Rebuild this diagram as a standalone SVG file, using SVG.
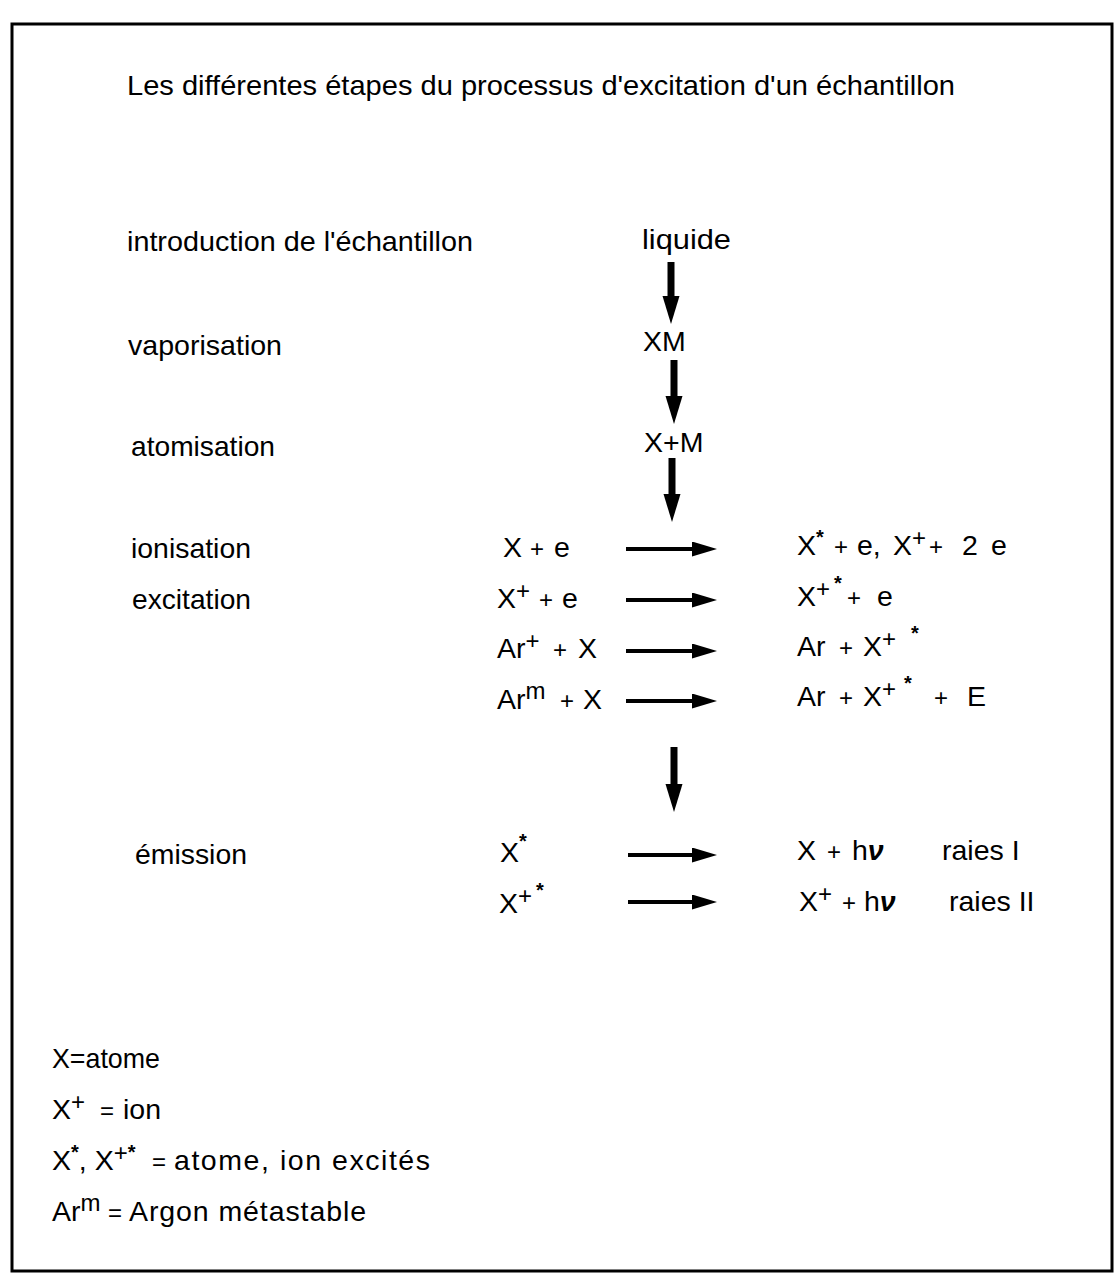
<svg xmlns="http://www.w3.org/2000/svg" width="1116" height="1276" viewBox="0 0 1116 1276">
<style>
.t{font-family:"Liberation Sans",Arial,Helvetica,sans-serif;font-size:28.5px;fill:#000}
.s{font-size:24px}
.p{font-size:24px}
.st{font-size:20px;font-weight:bold}
.nu{font-style:italic;font-weight:bold}
.ar{stroke:#000;stroke-width:4;fill:none}
.dn{stroke:#000;stroke-width:7;fill:none}
</style>
<defs>
<marker id="hh" markerUnits="userSpaceOnUse" markerWidth="26" markerHeight="16" refX="0" refY="7.5" orient="auto"><path d="M0,0 L25,7.5 L0,15 z" fill="#000"/></marker>
<marker id="dh" markerUnits="userSpaceOnUse" markerWidth="30" markerHeight="18" refX="0" refY="8.5" orient="auto"><path d="M0,0 L28,8.5 L0,17 z" fill="#000"/></marker>
</defs>
<rect x="0" y="0" width="1116" height="1276" fill="#fff"/>
<rect id="frame" x="12" y="24" width="1100" height="1247" fill="none" stroke="#000" stroke-width="3"/>
<text id="title" class="t" x="127" y="95" textLength="828" lengthAdjust="spacingAndGlyphs">Les différentes étapes du processus d'excitation d'un échantillon</text>

<g id="steps">
<text class="t" x="127" y="251" textLength="346" lengthAdjust="spacingAndGlyphs">introduction de l'échantillon</text>
<text class="t" x="128" y="355" textLength="154" lengthAdjust="spacingAndGlyphs">vaporisation</text>
<text class="t" x="131" y="456" textLength="144" lengthAdjust="spacingAndGlyphs">atomisation</text>
<text class="t" x="131" y="558" textLength="120" lengthAdjust="spacingAndGlyphs">ionisation</text>
<text class="t" x="132" y="609" textLength="119" lengthAdjust="spacingAndGlyphs">excitation</text>
<text class="t" x="135" y="864" textLength="112" lengthAdjust="spacingAndGlyphs">émission</text>
</g>

<g id="n-liquide"><text class="t" x="642" y="249" textLength="89" lengthAdjust="spacingAndGlyphs">liquide</text></g>
<g id="n-XM"><text class="t" x="643" y="351">XM</text></g>
<g id="n-XpM"><text class="t" x="644" y="452">X+M</text></g>

<g id="r1-left"><text class="t" x="503" y="557">X<tspan class="p" x="530">+</tspan><tspan x="554">e</tspan></text></g>
<g id="r1-right"><text class="t" x="797" y="555">X<tspan class="st" dy="-11">*</tspan><tspan class="p" x="834" dy="11">+</tspan><tspan x="857">e,</tspan><tspan x="893">X</tspan><tspan class="s" dy="-9">+</tspan><tspan class="p" x="929" dy="9">+</tspan><tspan x="962">2</tspan><tspan x="991">e</tspan></text></g>

<g id="r2-left"><text class="t" x="497" y="608">X<tspan class="s" dy="-9">+</tspan><tspan class="p" x="539" dy="9">+</tspan><tspan x="562">e</tspan></text></g>
<g id="r2-right"><text class="t" x="797" y="606">X<tspan class="s" dy="-9">+</tspan><tspan class="st" x="834" dy="-7">*</tspan><tspan class="p" x="847" dy="16">+</tspan><tspan x="877">e</tspan></text></g>

<g id="r3-left"><text class="t" x="497" y="658">Ar<tspan class="s" dy="-9">+</tspan><tspan class="p" x="553" dy="9">+</tspan><tspan x="578">X</tspan></text></g>
<g id="r3-right"><text class="t" x="797" y="656">Ar<tspan class="p" x="839">+</tspan><tspan x="863">X</tspan><tspan class="s" dy="-9">+</tspan><tspan class="st" x="911" dy="-7">*</tspan></text></g>

<g id="r4-left"><text class="t" x="497" y="709">Ar<tspan class="s" dy="-10">m</tspan><tspan class="p" x="560" dy="10">+</tspan><tspan x="583">X</tspan></text></g>
<g id="r4-right"><text class="t" x="797" y="706">Ar<tspan class="p" x="839">+</tspan><tspan x="863">X</tspan><tspan class="s" dy="-9">+</tspan><tspan class="st" x="904" dy="-7">*</tspan><tspan class="p" x="934" dy="16">+</tspan><tspan x="967">E</tspan></text></g>

<g id="r5-left"><text class="t" x="500" y="862">X<tspan class="st" dy="-14">*</tspan></text></g>
<g id="r5-right"><text class="t" x="797" y="860">X<tspan class="p" x="827">+</tspan><tspan x="852">h</tspan><tspan class="nu">ν</tspan><tspan x="942">raies I</tspan></text></g>

<g id="r6-left"><text class="t" x="499" y="913">X<tspan class="s" dy="-9">+</tspan><tspan class="st" x="536" dy="-7">*</tspan></text></g>
<g id="r6-right"><text class="t" x="799" y="911">X<tspan class="s" dy="-9">+</tspan><tspan class="p" x="842" dy="9">+</tspan><tspan x="864">h</tspan><tspan class="nu">ν</tspan><tspan x="949">raies II</tspan></text></g>

<g id="connectors">
<line class="dn" x1="671" y1="262" x2="671" y2="296" marker-end="url(#dh)"/>
<line class="dn" x1="674" y1="360" x2="674" y2="396" marker-end="url(#dh)"/>
<line class="dn" x1="672" y1="458" x2="672" y2="494" marker-end="url(#dh)"/>
<line class="dn" x1="674" y1="747" x2="674" y2="784" marker-end="url(#dh)"/>
<line class="ar" x1="626" y1="549" x2="692" y2="549" marker-end="url(#hh)"/>
<line class="ar" x1="626" y1="600" x2="692" y2="600" marker-end="url(#hh)"/>
<line class="ar" x1="626" y1="651" x2="692" y2="651" marker-end="url(#hh)"/>
<line class="ar" x1="626" y1="701" x2="692" y2="701" marker-end="url(#hh)"/>
<line class="ar" x1="628" y1="855" x2="692" y2="855" marker-end="url(#hh)"/>
<line class="ar" x1="628" y1="902" x2="692" y2="902" marker-end="url(#hh)"/>
</g>

<g id="legend">
<text class="t" x="52" y="1068" textLength="108" lengthAdjust="spacingAndGlyphs">X=atome</text>
<text class="t" x="52" y="1119">X<tspan class="s" dy="-9">+</tspan><tspan class="p" x="100" dy="9">=</tspan><tspan x="123">ion</tspan></text>
<text class="t" x="52" y="1170">X<tspan class="st" dy="-11">*</tspan><tspan dy="11">, X</tspan><tspan class="s" dy="-9">+</tspan><tspan class="st" dy="-2">*</tspan><tspan class="p" x="152" dy="11">=</tspan><tspan x="174" textLength="256" lengthAdjust="spacing">atome, ion excités</tspan></text>
<text class="t" x="52" y="1221">Ar<tspan class="s" dy="-10">m</tspan><tspan class="p" x="108" dy="10">=</tspan><tspan x="129" textLength="237" lengthAdjust="spacing">Argon métastable</tspan></text>
</g>
</svg>
